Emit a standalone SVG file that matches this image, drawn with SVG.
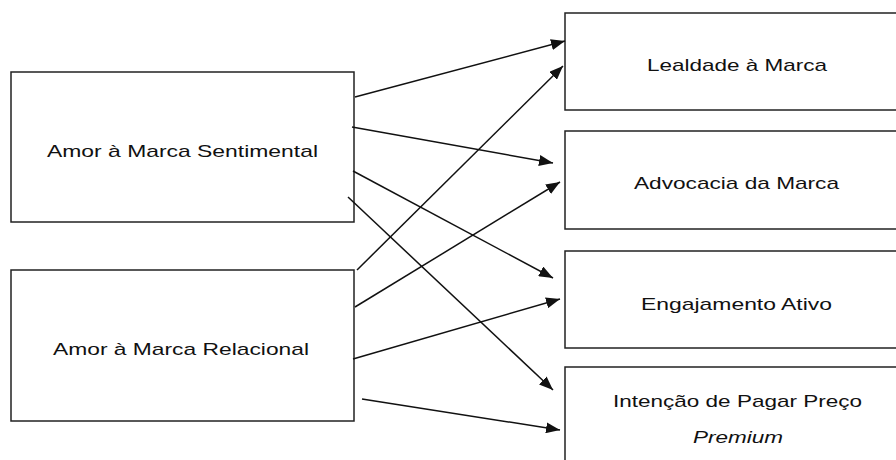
<svg xmlns="http://www.w3.org/2000/svg" width="896" height="460" viewBox="0 0 896 460">
  <style>
    .box { fill: #ffffff; stroke: #222222; stroke-width: 1.5; }
    .lbl { font-family: "Liberation Sans", Arial, sans-serif; font-size: 17px; fill: #111111; }
    .it { font-style: italic; }
    .link { stroke: #111111; stroke-width: 1.5; fill: none; marker-end: url(#arrow); }
  </style>
  <defs>
    <marker id="arrow" markerUnits="userSpaceOnUse" markerWidth="14" markerHeight="11" refX="14" refY="5.5" orient="auto">
      <path d="M0,0 L14,5.5 L0,11 Z" fill="#111111"/>
    </marker>
  </defs>
  <rect width="896" height="460" fill="#ffffff"/>

  <!-- source constructs -->
  <g id="amor-sentimental">
    <rect class="box" x="11" y="72" width="343" height="150"/>
    <text class="lbl" x="47" y="157" textLength="271" lengthAdjust="spacingAndGlyphs">Amor à Marca Sentimental</text>
  </g>
  <g id="amor-relacional">
    <rect class="box" x="11" y="270" width="343" height="151"/>
    <text class="lbl" x="53" y="355" textLength="256" lengthAdjust="spacingAndGlyphs">Amor à Marca Relacional</text>
  </g>

  <!-- outcome constructs -->
  <g id="lealdade">
    <rect class="box" x="565" y="13" width="345" height="97"/>
    <text class="lbl" x="647" y="71" textLength="180" lengthAdjust="spacingAndGlyphs">Lealdade à Marca</text>
  </g>
  <g id="advocacia">
    <rect class="box" x="565" y="131" width="345" height="98"/>
    <text class="lbl" x="634" y="189" textLength="205" lengthAdjust="spacingAndGlyphs">Advocacia da Marca</text>
  </g>
  <g id="engajamento">
    <rect class="box" x="565" y="251" width="345" height="97"/>
    <text class="lbl" x="641" y="310" textLength="191" lengthAdjust="spacingAndGlyphs">Engajamento Ativo</text>
  </g>
  <g id="intencao">
    <rect class="box" x="565" y="367" width="345" height="110"/>
    <text class="lbl" x="613" y="407" textLength="249" lengthAdjust="spacingAndGlyphs">Intenção de Pagar Preço</text>
    <text class="lbl it" x="693" y="443" textLength="90" lengthAdjust="spacingAndGlyphs">Premium</text>
  </g>

  <!-- paths between constructs -->
  <g id="connectors">
    <line class="link" x1="355" y1="97" x2="565" y2="41"/>
    <line class="link" x1="352" y1="127" x2="553" y2="163"/>
    <line class="link" x1="353" y1="171" x2="553" y2="278"/>
    <line class="link" x1="348" y1="197" x2="553" y2="390"/>
    <line class="link" x1="357" y1="270" x2="563" y2="66"/>
    <line class="link" x1="355" y1="307" x2="560" y2="182"/>
    <line class="link" x1="353" y1="359" x2="560" y2="299"/>
    <line class="link" x1="362" y1="399" x2="560" y2="430"/>
  </g>
</svg>
